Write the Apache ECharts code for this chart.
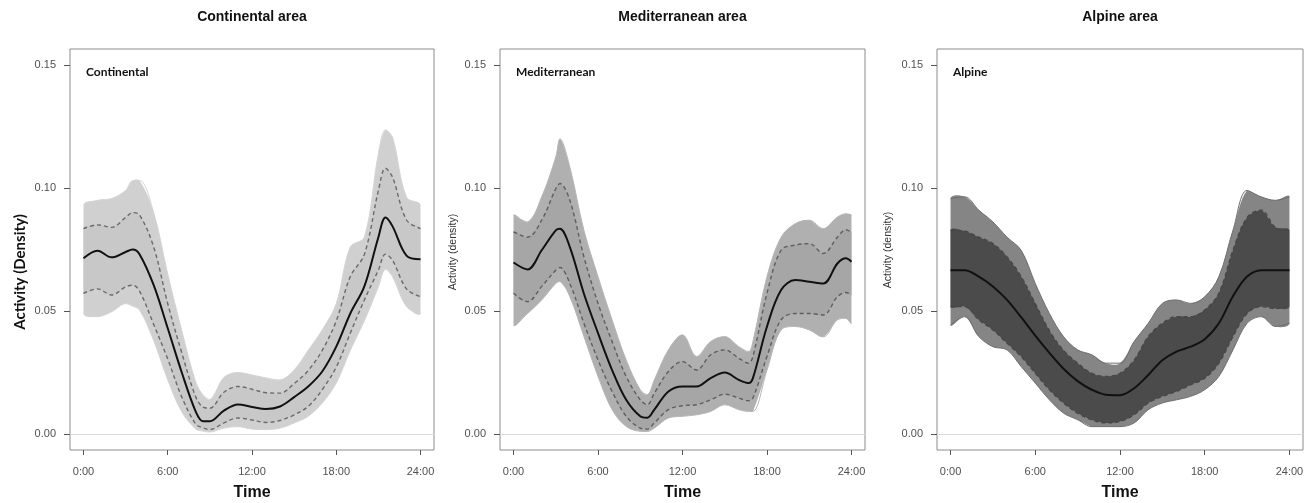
<!DOCTYPE html>
<html>
<head>
<meta charset="utf-8">
<script src="https://cdn.jsdelivr.net/npm/echarts@6/dist/echarts.min.js"></script>
<style>
  html, body { margin: 0; padding: 0; background: #fff; }
  #chart { width: 1304px; height: 503px; }
</style>
</head>
<body>
<div id="chart"></div>
<script>
// ---- data ----
const PANEL_TITLES = ['Continental area', 'Mediterranean area', 'Alpine area'];
const PANEL_LABELS = ['Continental', 'Mediterranean', 'Alpine'];
const X_TICKS = [0, 6, 12, 18, 24];
const Y_TICKS = [0, 0.05, 0.10, 0.15];

// Continental
const HOURS_CON = [0, 1, 2, 3, 3.5, 4, 5, 6, 7, 8, 8.5, 9, 10, 11, 12, 13, 14, 15, 16, 17, 18, 19, 20, 21, 21.5, 22, 23, 24];
const CON_MEAN = [0.0714, 0.0745, 0.0718, 0.0740, 0.0750, 0.0730, 0.0605, 0.0430, 0.0250, 0.0090, 0.0052, 0.0052, 0.0095, 0.0120, 0.0110, 0.0102, 0.0112, 0.0150, 0.0193, 0.0254, 0.0355, 0.0490, 0.0600, 0.0800, 0.0880, 0.0845, 0.0725, 0.0710];
const CON_HI = [0.0835, 0.0850, 0.0840, 0.0880, 0.0900, 0.0890, 0.0760, 0.0530, 0.0330, 0.0150, 0.0110, 0.0105, 0.0170, 0.0193, 0.0182, 0.0168, 0.0166, 0.0205, 0.0258, 0.0340, 0.0460, 0.0640, 0.0730, 0.0990, 0.1080, 0.1045, 0.0870, 0.0835];
const CON_LO = [0.0572, 0.0590, 0.0565, 0.0598, 0.0605, 0.0580, 0.0445, 0.0305, 0.0150, 0.0040, 0.0025, 0.0018, 0.0045, 0.0065, 0.0057, 0.0047, 0.0055, 0.0078, 0.0112, 0.0180, 0.0272, 0.0410, 0.0545, 0.0666, 0.0731, 0.0707, 0.0590, 0.0558];
const CON_MAX = [0.0930, 0.0950, 0.0957, 0.0990, 0.1030, 0.1030, 0.0900, 0.0650, 0.0420, 0.0210, 0.0160, 0.0140, 0.0230, 0.0250, 0.0240, 0.0228, 0.0220, 0.0260, 0.0340, 0.0423, 0.0530, 0.0760, 0.0800, 0.1140, 0.1236, 0.1207, 0.0963, 0.0930];
const CON_MIN = [0.0490, 0.0477, 0.0497, 0.0530, 0.0520, 0.0504, 0.0380, 0.0220, 0.0090, 0.0020, 0.0012, 0.0008, 0.0024, 0.0030, 0.0020, 0.0018, 0.0024, 0.0045, 0.0072, 0.0126, 0.0207, 0.0340, 0.0460, 0.0599, 0.0670, 0.0640, 0.0518, 0.0490];

// Mediterranean
const HOURS_MED = [0, 1, 2, 3, 3.3, 4, 5, 6, 7, 8, 9, 9.5, 10, 11, 12, 13, 14, 15, 16, 16.7, 17, 18, 19, 20, 21, 22, 23, 23.6, 24];
const MED_MEAN = [0.0697, 0.0669, 0.0747, 0.0828, 0.0834, 0.0760, 0.0570, 0.0410, 0.0260, 0.0139, 0.0072, 0.0066, 0.0099, 0.0173, 0.0193, 0.0193, 0.0227, 0.0250, 0.0220, 0.0207, 0.0227, 0.0437, 0.0585, 0.0626, 0.0619, 0.0612, 0.0693, 0.0714, 0.0700];
const MED_HI = [0.0822, 0.0800, 0.0869, 0.0997, 0.1018, 0.0950, 0.0720, 0.0531, 0.0376, 0.0234, 0.0139, 0.0119, 0.0166, 0.0254, 0.0295, 0.0260, 0.0322, 0.0342, 0.0308, 0.0288, 0.0315, 0.0572, 0.0747, 0.0768, 0.0774, 0.0734, 0.0800, 0.0830, 0.0820];
const MED_LO = [0.0572, 0.0538, 0.0600, 0.0666, 0.0677, 0.0612, 0.0450, 0.0301, 0.0173, 0.0072, 0.0024, 0.0020, 0.0045, 0.0099, 0.0115, 0.0119, 0.0139, 0.0162, 0.0146, 0.0135, 0.0146, 0.0315, 0.0464, 0.0490, 0.0490, 0.0484, 0.0558, 0.0575, 0.0565];
const MED_MAX = [0.0889, 0.0862, 0.0964, 0.1126, 0.1200, 0.1085, 0.0828, 0.0640, 0.0464, 0.0301, 0.0180, 0.0160, 0.0220, 0.0342, 0.0403, 0.0315, 0.0376, 0.0396, 0.0355, 0.0335, 0.0376, 0.0640, 0.0800, 0.0855, 0.0869, 0.0835, 0.0882, 0.0895, 0.0889];
const MED_MIN = [0.0443, 0.0490, 0.0545, 0.0612, 0.0620, 0.0558, 0.0396, 0.0234, 0.0099, 0.0031, 0.0011, 0.0010, 0.0024, 0.0065, 0.0072, 0.0078, 0.0092, 0.0119, 0.0099, 0.0092, 0.0092, 0.0260, 0.0423, 0.0437, 0.0423, 0.0395, 0.0464, 0.0470, 0.0450];

// Alpine
const HOURS_ALP = [0, 1, 2, 3, 4, 5, 6, 7, 8, 9, 10, 11, 12, 13, 14, 15, 16, 17, 18, 19, 20, 21, 22, 23, 24];
const ALP_MEAN = [0.0666, 0.0666, 0.0640, 0.0600, 0.0545, 0.0475, 0.0400, 0.0330, 0.0265, 0.0215, 0.0180, 0.0160, 0.0158, 0.0186, 0.0240, 0.0300, 0.0335, 0.0355, 0.0385, 0.0450, 0.0560, 0.0640, 0.0666, 0.0666, 0.0666];
const ALP_HI = [0.0828, 0.0825, 0.0800, 0.0774, 0.0720, 0.0640, 0.0530, 0.0420, 0.0340, 0.0288, 0.0247, 0.0234, 0.0247, 0.0300, 0.0396, 0.0450, 0.0477, 0.0477, 0.0504, 0.0572, 0.0747, 0.0880, 0.0910, 0.0840, 0.0828];
const ALP_LO = [0.0518, 0.0518, 0.0464, 0.0423, 0.0369, 0.0315, 0.0247, 0.0180, 0.0126, 0.0085, 0.0058, 0.0045, 0.0051, 0.0078, 0.0126, 0.0153, 0.0173, 0.0200, 0.0227, 0.0288, 0.0396, 0.0490, 0.0518, 0.0510, 0.0518];
const ALP_MAX = [0.0957, 0.0964, 0.0910, 0.0862, 0.0800, 0.0747, 0.0612, 0.0490, 0.0396, 0.0342, 0.0322, 0.0288, 0.0288, 0.0376, 0.0450, 0.0531, 0.0545, 0.0531, 0.0558, 0.0639, 0.0828, 0.0990, 0.0964, 0.0950, 0.0964];
const ALP_MIN = [0.0443, 0.0477, 0.0396, 0.0355, 0.0342, 0.0274, 0.0207, 0.0139, 0.0085, 0.0058, 0.0030, 0.0030, 0.0030, 0.0045, 0.0099, 0.0126, 0.0139, 0.0153, 0.0180, 0.0234, 0.0342, 0.0450, 0.0477, 0.0437, 0.0450];

// ---- layout / styling ----
const GRIDS = [
    { left: 70, width: 364 },
    { left: 500, width: 365 },
    { left: 937, width: 366 }
];
const TOP = 49, HEIGHT = 401;
const STYLES = [
    { outer: '#d0d0d0', inner: '#c8c8c8', edge: '#d4d4d4', dash: '#6a6a6a' },
    { outer: '#b0b0b0', inner: '#a6a6a6', edge: '#b6b6b6', dash: '#5e5e5e' },
    { outer: '#858585', inner: '#4b4b4b', edge: '#6e6e6e', dash: '#474747' }
];
const PANELS = [
    { hours: HOURS_CON, mean: CON_MEAN, hi: CON_HI, lo: CON_LO, max: CON_MAX, min: CON_MIN },
    { hours: HOURS_MED, mean: MED_MEAN, hi: MED_HI, lo: MED_LO, max: MED_MAX, min: MED_MIN },
    { hours: HOURS_ALP, mean: ALP_MEAN, hi: ALP_HI, lo: ALP_LO, max: ALP_MAX, min: ALP_MIN }
];

const pairs = (xs, ys) => xs.map((x, i) => [x, ys[i]]);

// filled band between two curves, drawn as one smoothed polygon in axis coordinates
function band(i, hours, lo, hi, fill) {
    return {
        type: 'custom', xAxisIndex: i, yAxisIndex: i, silent: true, clip: true, animation: false,
        data: hours.map((h, k) => [h, lo[k], hi[k]]),
        encode: { x: 0, y: 1 },
        renderItem: function (params, api) {
            if (params.dataIndex !== 0) return null;
            const up = [], dn = [];
            for (let k = 0; k < hours.length; k++) {
                up.push(api.coord([hours[k], hi[k]]));
                dn.unshift(api.coord([hours[k], lo[k]]));
            }
            const pts = up.concat(dn);
            const xs = pts.map(q => q[0]), ys = pts.map(q => q[1]);
            const box = [[Math.min(...xs), Math.min(...ys)], [Math.max(...xs), Math.max(...ys)]];
            return {
                type: 'polygon',
                shape: { points: pts, smooth: 0.35, smoothConstraint: box },
                style: { fill: fill, stroke: 'none', lineWidth: 0 }
            };
        }
    };
}

const chart = echarts.init(document.getElementById('chart'), null, { renderer: 'canvas' });

const grid = [], xAxis = [], yAxis = [], series = [];
const tickFont = { fontFamily: 'Liberation Sans, Arial, sans-serif', fontSize: 11, color: '#505050' };

PANELS.forEach((p, i) => {
    const st = STYLES[i];
    grid.push({
        left: GRIDS[i].left, top: TOP, width: GRIDS[i].width, height: HEIGHT,
        show: true, borderColor: '#8c8c8c', borderWidth: 1, backgroundColor: 'transparent',
        containLabel: false, outerBoundsMode: 'none'
    });
    xAxis.push({
        type: 'value', gridIndex: i, min: -0.96, max: 24.96, position: 'bottom',
        axisLine: { show: false, onZero: false },
        splitLine: { show: false },
        axisTick: { show: true, inside: false, length: 5, customValues: X_TICKS, lineStyle: { color: '#555', width: 1 } },
        axisLabel: Object.assign({ customValues: X_TICKS, margin: 16, formatter: v => Math.round(v) + ':00' }, tickFont)
    });
    yAxis.push({
        type: 'value', gridIndex: i, min: -0.0065, max: 0.1565, position: 'left',
        axisLine: { show: false, onZero: false },
        splitLine: { show: false },
        axisTick: { show: true, inside: false, length: 6, customValues: Y_TICKS, lineStyle: { color: '#555', width: 1 } },
        axisLabel: Object.assign({ customValues: Y_TICKS, margin: 14, formatter: v => v.toFixed(2) }, tickFont)
    });

    const base = {
        type: 'line', xAxisIndex: i, yAxisIndex: i, symbol: 'none',
        smooth: 0.35, silent: true, animation: false
    };
    // envelope of the bootstrap curves and the inner band
    series.push(band(i, p.hours, p.min, p.max, st.outer));
    series.push(band(i, p.hours, p.lo, p.hi, st.inner));
    // thin edge curves (the lower one also carries the zero reference line)
    series.push(Object.assign({}, base, {
        data: pairs(p.hours, p.min),
        lineStyle: { color: st.edge, width: 1 },
        markLine: {
            silent: true, symbol: 'none', label: { show: false }, animation: false,
            lineStyle: { color: '#dcdcdc', type: 'solid', width: 1 },
            data: [{ yAxis: 0 }]
        }
    }));
    series.push(Object.assign({}, base, {
        data: pairs(p.hours, p.max),
        lineStyle: { color: st.edge, width: 1 }
    }));
    // dashed bounds
    [p.hi, p.lo].forEach(arr => series.push(Object.assign({}, base, {
        data: pairs(p.hours, arr),
        lineStyle: { color: st.dash, width: 1.4, type: [4, 3] }
    })));
    // mean curve
    series.push(Object.assign({}, base, {
        data: pairs(p.hours, p.mean),
        lineStyle: { color: '#111', width: 2 }
    }));
});

const graphic = [];
PANELS.forEach((p, i) => {
    const cx = GRIDS[i].left + GRIDS[i].width / 2;
    graphic.push({
        type: 'text', x: cx, y: 17, silent: true,
        style: { text: PANEL_TITLES[i], fill: '#111', font: 'bold 14px "Liberation Sans Narrow", "Liberation Sans", Arial, sans-serif', align: 'center', verticalAlign: 'middle' }
    });
    graphic.push({
        type: 'text', x: GRIDS[i].left + 16, y: 72, silent: true,
        style: { text: PANEL_LABELS[i], fill: '#111', font: 'bold 12px Lato, "Open Sans", sans-serif', align: 'left', verticalAlign: 'middle' }
    });
    graphic.push({
        type: 'text', x: cx, y: 493, silent: true,
        style: { text: 'Time', fill: '#111', font: 'bold 16px "Liberation Sans", Arial, sans-serif', align: 'center', verticalAlign: 'middle' }
    });
});
graphic.push({
    type: 'text', x: 20, y: 272, rotation: Math.PI / 2, silent: true,
    style: { text: 'Activity (Density)', fill: '#111', font: 'bold 15px Lato, "Open Sans", sans-serif', align: 'center', verticalAlign: 'middle' }
});
graphic.push({
    type: 'text', x: 453, y: 252, rotation: Math.PI / 2, silent: true,
    style: { text: 'Activity (density)', fill: '#333', font: '10.5px "Liberation Sans", Arial, sans-serif', align: 'center', verticalAlign: 'middle' }
});
graphic.push({
    type: 'text', x: 888, y: 250, rotation: Math.PI / 2, silent: true,
    style: { text: 'Activity (density)', fill: '#333', font: '10.5px "Liberation Sans", Arial, sans-serif', align: 'center', verticalAlign: 'middle' }
});

chart.setOption({
    backgroundColor: '#ffffff',
    animation: false,
    grid: grid,
    xAxis: xAxis,
    yAxis: yAxis,
    series: series,
    graphic: graphic
});
</script>
</body>
</html>
